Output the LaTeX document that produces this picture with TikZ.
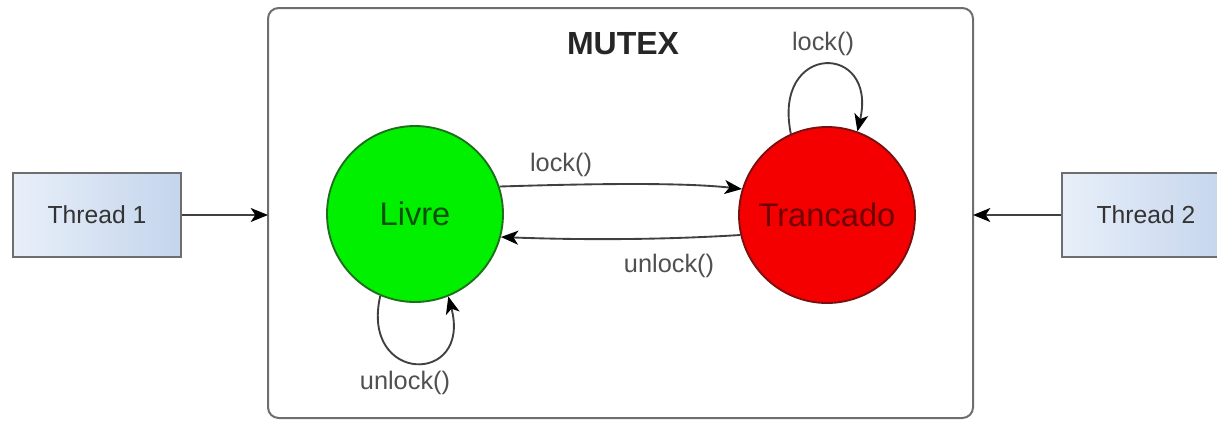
\documentclass[tikz,border=0pt]{standalone}
\usepackage{fontspec}
\setmainfont{Liberation Sans}
\usetikzlibrary{arrows.meta}
\definecolor{edgegray}{HTML}{404040}
\definecolor{labelgray}{HTML}{505050}
\definecolor{boxgray}{HTML}{6E6E6E}
\definecolor{threadtop}{HTML}{E8EFF9}
\definecolor{threadbot}{HTML}{C4D5EC}
\definecolor{livrefill}{HTML}{00F000}
\definecolor{livreline}{HTML}{1E6E1E}
\definecolor{livretext}{HTML}{0A500A}
\definecolor{trancfill}{HTML}{F50000}
\definecolor{trancline}{HTML}{7A1010}
\definecolor{trantext}{HTML}{700000}
\tikzset{
  threadbox/.style={draw=boxgray, line width=1.5pt, minimum width=126pt,
    minimum height=63pt, inner sep=0pt, left color=threadtop, right color=threadbot,
    text=black!80, font=\fontsize{18.5}{21}\selectfont},
  state/.style={circle, line width=1.4pt, minimum size=132pt, inner sep=0pt,
    font=\fontsize{24.5}{27}\selectfont},
  conn/.style={draw=edgegray, line width=1.4pt,
    -{Stealth[length=13pt,width=10.5pt,inset=3.5pt,fill=black,color=black]}},
  lbl/.style={text=labelgray, font=\fontsize{19}{21}\selectfont, inner sep=0pt},
}
\begin{document}
\begin{tikzpicture}[x=0.75pt, y=-0.75pt]
  \useasboundingbox (0,0) rectangle (1217,421);
  \clip (0,0) rectangle (1217,421);
  \fill[white] (0,0) rectangle (1217,421);

  % mutex container
  \draw[draw=boxgray, line width=1.5pt, rounded corners=8pt, fill=white]
    (268,8) rectangle (973,418);
  \coordinate (mutexW) at (268,215);
  \coordinate (mutexE) at (973,215);
  \node[font=\bfseries\fontsize{24}{27}\selectfont, text=black!85] (title) at (623,44) {MUTEX};

  % threads
  \node[threadbox] (t1) at (97,215) {Thread 1};
  \node[threadbox] (t2) at (1146,215) {Thread 2};

  % states
  \node[state, draw=livreline, fill=livrefill, text=livretext] (livre) at (415,214) {Livre};
  \node[state, draw=trancline, fill=trancfill, text=trantext] (tranc) at (827,215) {Trancado};

  % thread requests
  \draw[conn] (t1.east) -- (mutexW);
  \draw[conn] (t2.west) -- (mutexE);

  % transitions between states
  \draw[conn] (livre.18) .. controls (580,184) and (680,182) .. (tranc.163);
  \draw[conn] (tranc.193) .. controls (660,240) and (580,240) .. (livre.345);
  \node[lbl] (lk) at (561,165) {lock()};
  \node[lbl] (ulk) at (669,266) {unlock()};

  % self loops
  \draw[conn] (livre.247) .. controls (360,384) and (472,386) .. (livre.292);
  \node[lbl] (ulk2) at (405,383) {unlock()};
  \draw[conn] (tranc.114) .. controls (772,42) and (878,42) .. (tranc.70);
  \node[lbl] (lk2) at (823,44) {lock()};
\end{tikzpicture}
\end{document}
